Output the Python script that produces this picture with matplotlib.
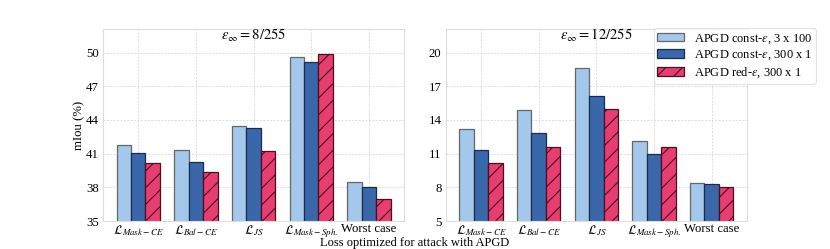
import numpy as np
import matplotlib
matplotlib.use('Agg')
import matplotlib.pyplot as plt

# mIoU (%) per loss
losses = [r'$\mathcal{L}_{Mask-CE}$', r'$\mathcal{L}_{Bal-CE}$', r'$\mathcal{L}_{JS}$',
          r'$\mathcal{L}_{Mask-Sph.}$', 'Worst case']
series = ['APGD const-$\\epsilon$, 3 x 100', 'APGD const-$\\epsilon$, 300 x 1', 'APGD red-$\\epsilon$, 300 x 1']

eps8_const_3x100 = [41.8, 41.3, 43.5, 49.6, 38.5]
eps8_const_300x1 = [41.1, 40.3, 43.3, 49.2, 38.0]
eps8_red_300x1 = [40.2, 39.4, 41.2, 49.9, 37.0]

eps12_const_3x100 = [13.2, 14.9, 18.6, 12.1, 8.4]
eps12_const_300x1 = [11.3, 12.8, 16.1, 11.0, 8.3]
eps12_red_300x1 = [10.2, 11.6, 15.0, 11.6, 8.0]

yticks8 = [35, 38, 41, 44, 47, 50]
yticks12 = [5, 8, 11, 14, 17, 20]

colors = ['#a4c8eb', '#3a67aa', '#e63e70']
edges = ['#666666', '#1a2a48', '#4a1020']
hatches = [None, None, '//']

plt.rcParams['font.family'] = 'Liberation Serif'
plt.rcParams['mathtext.fontset'] = 'stix'
plt.rcParams['hatch.linewidth'] = 0.8

fig = plt.figure(figsize=(8.3, 2.49), dpi=100)
ax1 = fig.add_axes([0.124, 0.1124, 0.363, 0.7711])
ax2 = fig.add_axes([0.537, 0.1124, 0.363, 0.7711])

panels = [
    (ax1, [eps8_const_3x100, eps8_const_300x1, eps8_red_300x1], yticks8, (35, 52.1), r'$\epsilon_\infty = 8/255$'),
    (ax2, [eps12_const_3x100, eps12_const_300x1, eps12_red_300x1], yticks12, (5, 22.1), r'$\epsilon_\infty = 12/255$'),
]

x = np.arange(len(losses))
w = 0.25
handles = []
for ax, data, yt, ylim, title in panels:
    ax.set_axisbelow(True)
    for i, vals in enumerate(data):
        b = ax.bar(x + (i - 1) * w, vals, w, color=colors[i], edgecolor=edges[i],
                   linewidth=0.9, hatch=hatches[i], label=series[i])
        if ax is ax1:
            handles.append(b)
    ax.set_ylim(*ylim)
    ax.set_yticks(yt)
    ax.set_xticks(x)
    ax.set_xticklabels(losses)
    ax.grid(True, color='#dddddd', linestyle=(0, (2, 1.5)), linewidth=0.7)
    for s in ax.spines.values():
        s.set_color('#dddddd')
        s.set_linewidth(0.8)
    ax.tick_params(length=0, labelsize=9.2)
    ax.tick_params(axis='x', pad=1.5)
    ax.tick_params(axis='y', pad=3)
    ax.text(0.5, 0.965, title, transform=ax.transAxes, ha='center', va='center', fontsize=10.5)

ax1.set_ylabel('mIou (%)', fontsize=9.2, labelpad=0)
fig.text(0.5, 0.002, 'Loss optimized for attack with APGD', ha='center', va='bottom', fontsize=9)

leg = fig.legend(handles=handles, loc='upper right', bbox_to_anchor=(0.983, 0.886),
                 borderaxespad=0, fontsize=9, frameon=True, fancybox=True,
                 handlelength=2.1, handletextpad=0.8, labelspacing=0.25, borderpad=0.3)
leg.get_frame().set_edgecolor('#dddddd')
leg.get_frame().set_linewidth(0.8)

fig.savefig('out.png', dpi=100)
